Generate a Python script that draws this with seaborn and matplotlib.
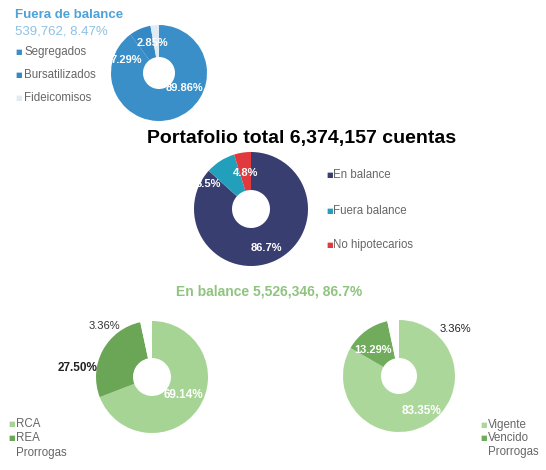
import matplotlib.pyplot as plt
import seaborn as sns

sns.set_theme(style="white")
plt.rcParams['font.family'] = ['Liberation Sans', 'DejaVu Sans']

W, H = 546, 470

# Datos
fuera_labels = ["Segregados", "Bursatilizados", "Fideicomisos"]
fuera_values = [89.86, 7.29, 2.85]
fuera_colors = ["#3b8fc9", "#3489c4", "#dfecf5"]

total_labels = ["En balance", "Fuera balance", "No hipotecarios"]
total_values = [86.7, 8.5, 4.8]
total_colors = ["#383e6f", "#22a0bb", "#e03a3e"]

rca_labels = ["RCA", "REA", "Prorrogas"]
rca_values = [69.14, 27.50, 3.36]
rca_colors = ["#a6d494", "#6ba657", "#ffffff"]

vig_labels = ["Vigente", "Vencido", "Prorrogas"]
vig_values = [83.35, 13.29, 3.36]
vig_colors = ["#abd79b", "#70ac5c", "#ffffff"]

fig = plt.figure(figsize=(W / 100, H / 100), dpi=100)


def px(x, y):
    return x / W, 1 - y / H


def donut(cx, cy, r, hole, values, colors):
    ax = fig.add_axes([(cx - r) / W, 1 - (cy + r) / H, 2 * r / W, 2 * r / H])
    ax.pie(values, colors=colors, startangle=90, counterclock=False,
           radius=1, wedgeprops=dict(width=1 - hole / r, linewidth=0))
    ax.set_xlim(-1, 1)
    ax.set_ylim(-1, 1)
    ax.axis('off')
    return ax


def pct(x, y, value, color="white", bold=True, dec=2, size=8):
    fig.text(*px(x, y), f"{value:.{dec}f}%", color=color, fontsize=size,
             fontweight='bold' if bold else 'normal', ha='center', va='center')


def legend(x, ys, labels, colors, gap=8, size=8.3):
    for yy, lab, col in zip(ys, labels, colors):
        if col != "#ffffff":
            fig.text(*px(x, yy), "■", color=col, fontsize=5, ha='left', va='center',
                     family='DejaVu Sans')
        fig.text(*px(x + gap, yy), lab, color="#666666", fontsize=size, ha='left', va='center')


# Fuera de balance
fig.text(*px(15, 15), "Fuera de balance", color="#4da2d8", fontsize=9.5, fontweight='bold',
         ha='left', va='center')
fig.text(*px(15, 32), "539,762, 8.47%", color="#8dc2e3", fontsize=9.5, ha='left', va='center')
donut(159, 73, 48, 16, fuera_values, fuera_colors)
pct(152, 43, fuera_values[2])
pct(126, 60, fuera_values[1])
pct(184, 88, fuera_values[0])
legend(15, [52, 75, 98], fuera_labels, fuera_colors, gap=9)

# Portafolio total
fig.text(*px(302, 139), "Portafolio total 6,374,157 cuentas", color="black", fontsize=14,
         fontweight='bold', ha='center', va='center')
donut(251, 209, 57, 19, total_values, total_colors)
pct(266, 248, total_values[0], dec=1)
pct(208, 184, total_values[1], dec=1)
pct(246, 173, total_values[2], dec=1)
legend(326, [175, 211, 245], total_labels, total_colors, gap=7)

# En balance
fig.text(*px(269, 292), "En balance 5,526,346, 86.7%", color="#8fc47f", fontsize=10,
         fontweight='bold', ha='center', va='center')

donut(152, 377, 56, 19, rca_values, rca_colors)
pct(183, 395, rca_values[0], size=8.5)
pct(78, 368, rca_values[1], color="#222222", size=8.5)
pct(104, 326, rca_values[2], color="#333333", bold=False)
legend(8, [424, 438, 453], rca_labels, rca_colors)

donut(399, 376, 56, 18, vig_values, vig_colors)
pct(422, 411, vig_values[0], size=8.5)
pct(373, 350, vig_values[1])
pct(455, 329, vig_values[2], color="#222222", bold=False)
legend(480, [425, 438, 452], vig_labels, vig_colors)

fig.savefig("out.png", dpi=100, facecolor="white")
